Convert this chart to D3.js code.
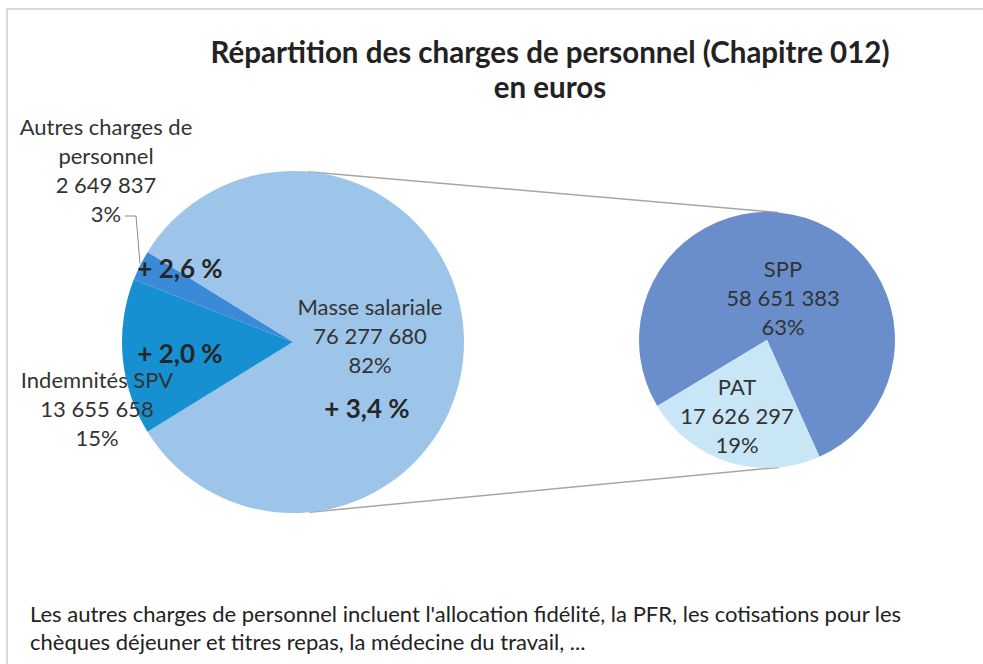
<!DOCTYPE html>
<html>
<head>
<meta charset="utf-8">
<script src="https://cdn.jsdelivr.net/npm/d3@7"></script>
<style>
  html, body { margin: 0; padding: 0; background: #fff; }
  svg { display: block; }
  text { font-family: Lato, "Open Sans", sans-serif; }
</style>
</head>
<body>
<svg id="chart" width="983" height="664"></svg>
<script>
// ---------- data ----------
const titleLines = ["Répartition des charges de personnel (Chapitre 012)", "en euros"];
const mainCategories = ["Masse salariale", "Indemnités SPV", "Autres charges de personnel"];
const mainValues = [76277680, 13655658, 2649837];
const mainChanges = ["+ 3,4 %", "+ 2,0 %", "+ 2,6 %"];
const subCategories = ["SPP", "PAT"];
const subValues = [58651383, 17626297];
const footnoteLines = [
  "Les autres charges de personnel incluent l'allocation fidélité, la PFR, les cotisations pour les",
  "chèques déjeuner et titres repas, la médecine du travail, ..."
];

// ---------- styles / layout ----------
const mainColors = ["#9dc5ea", "#1690d0", "#3a8ad8"];
const subColors = ["#6a8ecb", "#c9e6f7"];
const textColor = "#333333";
const mainCenter = [293, 342], mainR = 171;
const subCenter = [767, 340], subR = 128;
const lineH = 29;
// label block positions (x center, first baseline y)
const mainLabelPos = [[370, 315], [97, 388], [106, 135]];
const mainLabelLines = [
  d => [d.cat, d.val, d.pct],
  d => [d.cat, d.val, d.pct],
  d => ["Autres charges de", "personnel", d.val, d.pct]
];
const changePos = [[367, 418], [180, 363], [180, 278]];
const subLabelPos = [[783, 277], [737, 395]];

const fr = d3.formatLocale({decimal: ",", thousands: " ", grouping: [3], currency: ["", " €"]});
const fmtNum = fr.format(",d");
const fmtPct = fr.format(".0%");

const svg = d3.select("#chart");

// frame
svg.append("rect")
  .attr("x", 7).attr("y", 9).attr("width", 1000).attr("height", 700)
  .attr("fill", "none").attr("stroke", "#d9d9d9").attr("stroke-width", 2);

// title
svg.append("g").selectAll("text").data(titleLines).join("text")
  .attr("x", 550).attr("y", (d, i) => 63 + i * 35)
  .attr("text-anchor", "middle")
  .attr("font-size", 29.5).attr("font-weight", 700).attr("fill", "#222")
  .text(d => d);

const total = d3.sum(mainValues);
const mainData = mainCategories.map((c, i) => ({cat: c, value: mainValues[i], change: mainChanges[i]}));
const subData = subCategories.map((c, i) => ({cat: c, value: subValues[i]}));

// main pie: first slice (the one exploded into second pie) centred on the right
const firstAngle = 2 * Math.PI * mainValues[0] / total;
const mainStart = Math.PI / 2 - firstAngle / 2;
const mainPie = d3.pie().sort(null).value(d => d.value)
  .startAngle(mainStart).endAngle(mainStart + 2 * Math.PI);
const mainArcs = mainPie(mainData);
const mainArc = d3.arc().innerRadius(0).outerRadius(mainR);

const subStart = -121 * Math.PI / 180;
const subPie = d3.pie().sort(null).value(d => d.value)
  .startAngle(subStart).endAngle(subStart + 2 * Math.PI);
const subArcs = subPie(subData);
const subArc = d3.arc().innerRadius(0).outerRadius(subR);

// connector lines: external tangents between the two circles
const dx = subCenter[0] - mainCenter[0], dy = subCenter[1] - mainCenter[1];
const dist = Math.hypot(dx, dy);
const base = Math.atan2(dy, dx);
const alpha = Math.acos((mainR - subR) / dist);
[base - alpha, base + alpha].forEach(a => {
  svg.append("line")
    .attr("x1", mainCenter[0] + mainR * Math.cos(a))
    .attr("y1", mainCenter[1] + mainR * Math.sin(a))
    .attr("x2", subCenter[0] + subR * Math.cos(a))
    .attr("y2", subCenter[1] + subR * Math.sin(a))
    .attr("stroke", "#a6a6a6").attr("stroke-width", 1.5);
});

const gMain = svg.append("g").attr("transform", `translate(${mainCenter})`);
gMain.selectAll("path").data(mainArcs).join("path")
  .attr("d", mainArc)
  .attr("fill", (d, i) => mainColors[i]);

const gSub = svg.append("g").attr("transform", `translate(${subCenter})`);
gSub.selectAll("path").data(subArcs).join("path")
  .attr("d", subArc)
  .attr("fill", (d, i) => subColors[i]);

// leader line for the small slice
{
  const a = mainArcs[2];
  const mid = (a.startAngle + a.endAngle) / 2;
  const ex = mainCenter[0] + mainR * Math.sin(mid);
  const ey = mainCenter[1] - mainR * Math.cos(mid);
  const [lx, ly] = mainLabelPos[2];
  const ty = ly + 3 * lineH - 6;
  svg.append("polyline")
    .attr("points", [[lx + 19, ty], [ex - 4, ty], [ex, ey - 2]].map(p => p.join(",")).join(" "))
    .attr("fill", "none").attr("stroke", "#8c8c8c").attr("stroke-width", 1);
}

// main labels
mainData.forEach((d, i) => {
  const info = {cat: d.cat, val: fmtNum(d.value), pct: fmtPct(d.value / total)};
  const lines = mainLabelLines[i](info);
  const [x, y] = mainLabelPos[i];
  svg.append("g").selectAll("text").data(lines).join("text")
    .attr("x", x).attr("y", (t, k) => y + k * lineH)
    .attr("text-anchor", "middle")
    .attr("font-size", 22).attr("fill", textColor)
    .text(t => t);
  svg.append("text")
    .attr("x", changePos[i][0]).attr("y", changePos[i][1])
    .attr("text-anchor", "middle")
    .attr("font-size", 26).attr("font-weight", 700).attr("fill", "#262626")
    .text(d.change);
});

// sub labels
subData.forEach((d, i) => {
  const lines = [d.cat, fmtNum(d.value), fmtPct(d.value / total)];
  const [x, y] = subLabelPos[i];
  svg.append("g").selectAll("text").data(lines).join("text")
    .attr("x", x).attr("y", (t, k) => y + k * lineH)
    .attr("text-anchor", "middle")
    .attr("font-size", 22).attr("fill", textColor)
    .text(t => t);
});

// footnote
svg.append("g").selectAll("text").data(footnoteLines).join("text")
  .attr("x", 30).attr("y", (d, i) => 622 + i * 28)
  .attr("font-size", 22).attr("fill", "#222")
  .text(d => d);
</script>
</body>
</html>
